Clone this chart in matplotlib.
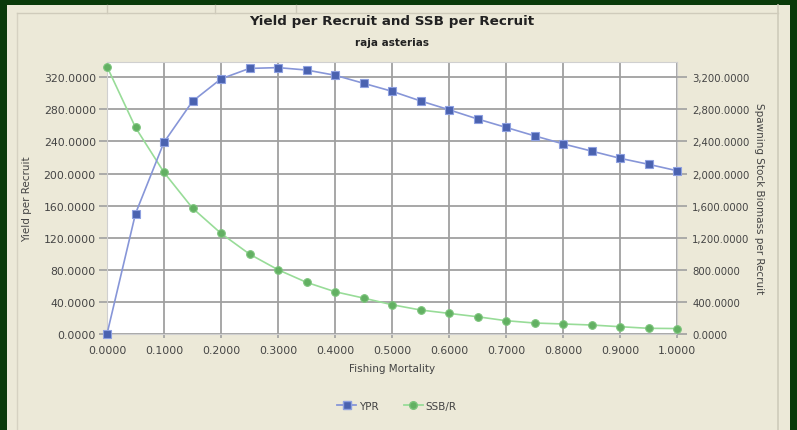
import matplotlib
matplotlib.use("Agg")
import matplotlib.pyplot as plt
from matplotlib.patches import Rectangle
from matplotlib.lines import Line2D
from matplotlib.ticker import FuncFormatter

# Fishing mortality grid
fishing_mortality = [0.00, 0.05, 0.10, 0.15, 0.20, 0.25, 0.30, 0.35, 0.40, 0.45, 0.50,
                     0.55, 0.60, 0.65, 0.70, 0.75, 0.80, 0.85, 0.90, 0.95, 1.00]

# Yield per recruit (left axis)
ypr = [0.0, 150.0, 239.0, 290.0, 318.0, 331.0, 332.0, 329.0, 322.5, 312.5, 302.5,
       290.5, 279.5, 268.0, 257.5, 247.0, 237.0, 228.0, 219.0, 211.5, 203.5]

# Spawning stock biomass per recruit (right axis)
ssbr = [3333.0, 2574.0, 2014.0, 1569.0, 1254.0, 996.0, 801.0, 644.0, 527.0, 448.0, 365.0,
        299.0, 257.0, 215.0, 166.0, 137.0, 125.0, 112.0, 91.0, 71.0, 68.0]

x_ticks = [0.0, 0.1, 0.2, 0.3, 0.4, 0.5, 0.6, 0.7, 0.8, 0.9, 1.0]
ypr_ticks = [0, 40, 80, 120, 160, 200, 240, 280, 320]
ssbr_ticks = [0, 400, 800, 1200, 1600, 2000, 2400, 2800, 3200]

W, H = 797, 431
fig = plt.figure(figsize=(W / 100, H / 100), dpi=100)
fig.patch.set_facecolor("#0a3a0a")

# Window panel and frame decorations (pixel coordinates)
def px_rect(x0, y0, x1, y1, **kw):
    fig.patches.append(Rectangle((x0 / W, 1 - y1 / H), (x1 - x0) / W, (y1 - y0) / H,
                                 transform=fig.transFigure, zorder=-2, **kw))

def px_line(x0, y0, x1, y1, **kw):
    fig.add_artist(Line2D([x0 / W, x1 / W], [1 - y0 / H, 1 - y1 / H],
                          transform=fig.transFigure, zorder=-1, **kw))

px_rect(7, 6, 790, H, facecolor="#ece9d8", edgecolor="none")
px_line(17, 14, 17, H, color="#d6d2c2", lw=1)
px_line(17, 14, 778, 14, color="#cfcbbb", lw=1)
px_line(778, 6, 778, H, color="#cfcbbb", lw=1.2)
for xv in (107, 215, 296):
    px_line(xv, 6, xv, 14, color="#cfcbbb", lw=1)

GRID = "#a0a0a0"
TXT = "#444444"

ax = fig.add_axes([107 / W, 1 - 335 / H, 570 / W, 272 / H])
ax.set_zorder(2)
ax.set_facecolor("white")
ax.set_xlim(0, 1.0)
ax.set_ylim(0, 339)
ax.set_xticks(x_ticks)
ax.set_yticks(ypr_ticks)
ax.xaxis.set_major_formatter(FuncFormatter(lambda v, p: f"{v:.4f}"))
ax.yaxis.set_major_formatter(FuncFormatter(lambda v, p: f"{v:.4f}"))
ax.grid(True, color=GRID, lw=1.3)
ax.set_axisbelow(True)
for s in ax.spines.values():
    s.set_color("#d0d0d0")
    s.set_linewidth(0.8)
ax.tick_params(axis="y", direction="out", length=6, width=1.2, color=GRID,
               pad=2, labelsize=7.8, labelcolor=TXT)
ax.tick_params(axis="x", direction="out", length=3, width=1.2, color=GRID,
               pad=5, labelsize=7.8, labelcolor=TXT)

ax2 = ax.twinx()
ax2.set_zorder(3)
ax2.patch.set_visible(False)
ax2.set_ylim(0, 3390)
ax2.set_yticks(ssbr_ticks)
ax2.yaxis.set_major_formatter(FuncFormatter(lambda v, p: f"{v:,.4f}"))
ax2.tick_params(axis="y", direction="out", length=7, width=1.2, color=GRID,
                pad=4, labelsize=7.3, labelcolor=TXT)
for s in ax2.spines.values():
    s.set_visible(False)

ax2.plot(fishing_mortality, ssbr, color="#98dc98", lw=1.2, marker="o", ms=5.5,
         markerfacecolor="#62b062", markeredgecolor="#7cc47c", markeredgewidth=0.8,
         zorder=3, clip_on=False)
ax2.plot(fishing_mortality, [v * 10 for v in ypr], color="#8796d8", lw=1.2, marker="s", ms=5.5,
         markerfacecolor="#4a62b0", markeredgecolor="#8ea0e0", markeredgewidth=0.8,
         zorder=4, clip_on=False)

ax.set_xlabel("Fishing Mortality", fontsize=7.5, color=TXT, labelpad=6)
ax.set_ylabel("Yield per Recruit", fontsize=7.5, color=TXT, labelpad=8)
ax2.set_ylabel("Spawning Stock Biomass per Recruit", fontsize=7.5, color=TXT,
               rotation=270, labelpad=10)

fig.text(392 / W, 1 - 22 / H, "Yield per Recruit and SSB per Recruit",
         ha="center", va="center", fontsize=9.7, fontweight="bold", color="#222222")
fig.text(392 / W, 1 - 43 / H, "raja asterias",
         ha="center", va="center", fontsize=7.5, fontweight="bold", color="#222222")

handles = [
    Line2D([], [], color="#8796d8", lw=1.3, marker="s", ms=5.5,
           markerfacecolor="#4a62b0", markeredgecolor="#8ea0e0"),
    Line2D([], [], color="#98dc98", lw=1.3, marker="o", ms=5.5,
           markerfacecolor="#62b062", markeredgecolor="#7cc47c"),
]
fig.legend(handles, ["YPR", "SSB/R"], loc="center", bbox_to_anchor=(397 / W, 1 - 407 / H),
           ncol=2, frameon=False, fontsize=7.5, handlelength=1.8, handletextpad=0.3,
           columnspacing=2.4, labelcolor=TXT)

fig.savefig("out.png", dpi=100, facecolor=fig.get_facecolor())
